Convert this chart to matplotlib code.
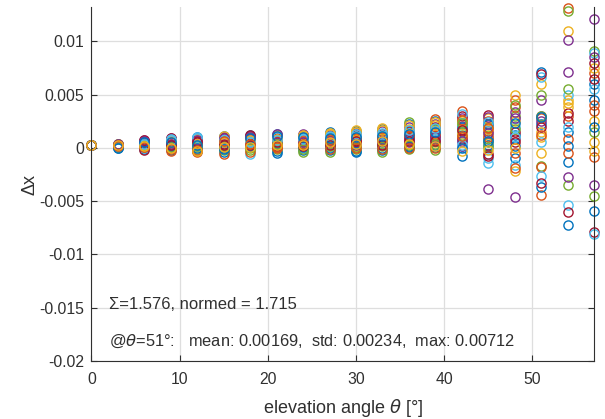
import matplotlib
matplotlib.use("Agg")
import matplotlib.pyplot as plt

plt.rcParams['font.family'] = ['Liberation Sans', 'DejaVu Sans']
plt.rcParams['axes.unicode_minus'] = False

theta = [0, 3, 6, 9, 12, 15, 18, 21, 24, 27, 30, 33, 36, 39, 42, 45, 48, 51, 54, 57]

# values per elevation angle, one entry per series (24 series)
th0 = [0.0003] * 24
th3 = [0.0003, 0.0002, 0.0004, 0.0001, 0.0003, 0.0002, 0.0004, 0.0000, 0.0002, 0.0003, 0.0001, 0.0004,
       0.0002, 0.0003, 0.0001, 0.0002, 0.0003, 0.0004, 0.0001, 0.0002, 0.0003, 0.0000, 0.0002, 0.0003]
th6 = [0.0006, 0.0003, 0.0001, 0.0007, 0.0004, 0.0002, 0.0005, -0.0001, 0.0006, 0.0002, 0.0004, 0.0003,
       0.0000, 0.0007, 0.0005, 0.0001, 0.0003, 0.0006, 0.0002, 0.0004, -0.0002, 0.0005, 0.0001, 0.0002]
th9 = [0.0008, 0.0002, 0.0005, 0.0009, 0.0001, 0.0006, 0.0009, -0.0002, 0.0004, 0.0007, 0.0003, 0.0000,
       0.0008, 0.0005, 0.0002, -0.0003, 0.0006, 0.0004, 0.0001, 0.0007, 0.0003, 0.0005, -0.0001, 0.0000]
th12 = [0.0010, 0.0004, 0.0001, 0.0009, 0.0006, 0.0002, 0.0007, -0.0003, 0.0005, 0.0008, 0.0003, -0.0001,
        0.0009, 0.0006, 0.0000, -0.0004, 0.0004, 0.0007, 0.0002, 0.0010, 0.0005, 0.0003, -0.0002, -0.0003]
th15 = [0.0011, 0.0005, 0.0002, 0.0010, 0.0007, 0.0003, 0.0009, -0.0004, 0.0006, 0.0011, 0.0001, -0.0002,
        0.0008, 0.0004, 0.0000, -0.0006, 0.0005, 0.0009, 0.0002, 0.0007, 0.0003, -0.0001, 0.0006, 0.0001]
th18 = [0.0012, 0.0007, 0.0003, 0.0011, 0.0005, -0.0006, 0.0009, 0.0001, 0.0010, 0.0004, 0.0008, -0.0002,
        0.0006, 0.0012, 0.0002, -0.0004, 0.0007, 0.0010, 0.0000, 0.0005, 0.0003, 0.0009, 0.0004, 0.0001]
th21 = [0.0013, 0.0004, 0.0001, 0.0011, 0.0007, 0.0002, 0.0009, -0.0003, 0.0006, 0.0012, 0.0003, -0.0001,
        0.0010, 0.0005, -0.0005, 0.0000, 0.0008, 0.0013, 0.0004, 0.0007, 0.0002, 0.0011, 0.0001, 0.0003]
th24 = [0.0012, 0.0005, 0.0002, 0.0013, 0.0008, 0.0000, 0.0010, -0.0002, 0.0006, 0.0011, 0.0004, -0.0004,
        0.0009, 0.0003, 0.0001, 0.0007, 0.0012, 0.0005, -0.0001, 0.0008, 0.0002, 0.0010, 0.0004, 0.0003]
th27 = [0.0015, 0.0006, 0.0003, 0.0012, 0.0009, 0.0001, 0.0011, -0.0002, 0.0007, 0.0014, 0.0004, -0.0004,
        0.0010, 0.0005, 0.0000, 0.0008, 0.0013, 0.0006, 0.0002, 0.0011, 0.0003, 0.0009, -0.0001, 0.0005]
th30 = [0.0016, 0.0007, 0.0002, 0.0014, 0.0010, 0.0004, 0.0012, -0.0003, 0.0008, 0.0017, 0.0005, -0.0001,
        0.0011, 0.0006, -0.0004, 0.0009, 0.0015, 0.0003, 0.0001, 0.0013, 0.0006, 0.0010, 0.0000, 0.0004]
th33 = [0.0018, 0.0008, 0.0003, 0.0016, 0.0011, 0.0005, 0.0013, -0.0002, 0.0009, 0.0019, 0.0004, -0.0004,
        0.0012, 0.0007, 0.0000, 0.0010, 0.0017, 0.0006, 0.0002, 0.0014, 0.0003, 0.0011, -0.0001, 0.0006]
th36 = [0.0022, 0.0010, 0.0004, 0.0020, 0.0024, 0.0007, 0.0016, 0.0001, 0.0012, 0.0018, 0.0005, -0.0001,
        0.0014, 0.0009, 0.0002, 0.0011, 0.0021, 0.0008, 0.0003, 0.0017, 0.0006, 0.0013, 0.0000, 0.0004]
th39 = [0.0025, 0.0027, 0.0005, 0.0022, 0.0018, 0.0009, 0.0020, 0.0001, 0.0014, 0.0024, 0.0007, -0.0002,
        0.0016, 0.0011, 0.0003, 0.0012, 0.0021, 0.0010, 0.0004, 0.0019, 0.0006, 0.0015, 0.0000, 0.0002]
th42 = [-0.0008, 0.0035, 0.0010, 0.0028, 0.0022, 0.0005, 0.0030, 0.0015, 0.0018, 0.0025, 0.0002, 0.0012,
        0.0032, 0.0008, 0.0020, 0.0026, 0.0014, 0.0006, 0.0023, 0.0003, 0.0017, 0.0000, 0.0011, -0.0003]
th45 = [0.0008, 0.0025, 0.0012, -0.0039, 0.0020, -0.0014, 0.0031, 0.0003, 0.0016, 0.0028, 0.0029, 0.0005,
        -0.0010, -0.0006, 0.0022, 0.0010, 0.0018, 0.0014, 0.0001, 0.0024, -0.0008, 0.0006, 0.0019, -0.0002]
th48 = [0.0012, 0.0045, 0.0050, -0.0046, 0.0030, 0.0020, 0.0008, -0.0010, 0.0038, 0.0025, 0.0034, 0.0040,
        -0.0016, 0.0015, 0.0002, -0.0005, -0.0022, 0.0028, 0.0018, 0.0010, 0.0005, 0.0023, -0.0019, 0.0000]
th51 = [0.00712, -0.0044, 0.0060, 0.0045, -0.0017, 0.0066, 0.0069, -0.0037, -0.0018, 0.0010, 0.0030, 0.0050,
        -0.0026, -0.0033, 0.0022, 0.0028, 0.0015, 0.0025, 0.0030, 0.0005, 0.0020, 0.0029, 0.0012, -0.0005]
th54 = [-0.0072, 0.0131, 0.0110, 0.0101, 0.0128, -0.0054, -0.0060, -0.0013, 0.0030, 0.0045, 0.0071, -0.0035,
        0.0050, 0.0025, 0.0015, 0.0008, 0.0038, -0.0027, 0.0055, 0.0020, 0.0033, 0.0002, -0.0005, 0.0042]
th57 = [-0.0059, 0.0070, 0.0005, 0.0121, 0.0091, 0.0089, -0.0079, 0.0060, 0.0035, 0.0075, -0.0035, -0.0045,
        -0.0081, 0.0080, 0.0045, -0.0009, 0.0025, 0.0085, 0.0015, 0.0055, 0.0065, 0.0020, 0.0040, -0.0003]

columns = [th0, th3, th6, th9, th12, th15, th18, th21, th24, th27, th30, th33, th36, th39,
           th42, th45, th48, th51, th54, th57]

colors = ['#0072BD', '#D95319', '#EDB120', '#7E2F8E', '#77AC30', '#4DBEEE', '#A2142F']

xticks = [0, 10, 20, 30, 40, 50]
yticks = [-0.02, -0.015, -0.01, -0.005, 0, 0.005, 0.01]
yticklabels = ['-0.02', '-0.015', '-0.01', '-0.005', '0', '0.005', '0.01']

fig = plt.figure(figsize=(6.05, 4.19), dpi=100)
ax = fig.add_axes([0.151, 0.1384, 0.831, 0.8446])

n_series = len(th0)
for s in range(n_series):
    ys = [col[s] for col in columns]
    ax.plot(theta, ys, ls='none', marker='o', markersize=6.6, mfc='none',
            mec=colors[s % len(colors)], mew=1.0, clip_on=False)

ax.set_xlim(0, 57)
ax.set_ylim(-0.02, 0.0132)
ax.set_xticks(xticks)
ax.set_xticklabels([str(v) for v in xticks])
ax.set_yticks(yticks)
ax.set_yticklabels(yticklabels)

ax.grid(True, color='#dedede', linewidth=0.9)
ax.set_axisbelow(True)

dark = '#303030'
for side in ['left', 'right', 'bottom']:
    ax.spines[side].set_color(dark)
    ax.spines[side].set_linewidth(0.8)
ax.spines['top'].set_visible(False)
ax.tick_params(direction='in', length=4, width=0.8, colors=dark, labelsize=11.3,
               right=True, top=False)
ax.tick_params(axis='x', pad=8)
ax.tick_params(axis='y', pad=5)

ax.set_xlabel('elevation angle $\\it{\\theta}$ [°]', fontsize=13, color=dark, labelpad=7)
ax.set_ylabel('Δx', fontsize=13, color=dark, labelpad=1)

ax.text(2.0, -0.0147, 'Σ=1.576, normed = 1.715', fontsize=12, color=dark, va='center', ha='left')
ax.text(2.0, -0.0182, '@$\\it{\\theta}$=51°:   mean: 0.00169,  std: 0.00234,  max: 0.00712',
        fontsize=11.8, color=dark, va='center', ha='left')

fig.savefig('out.png', dpi=100)
